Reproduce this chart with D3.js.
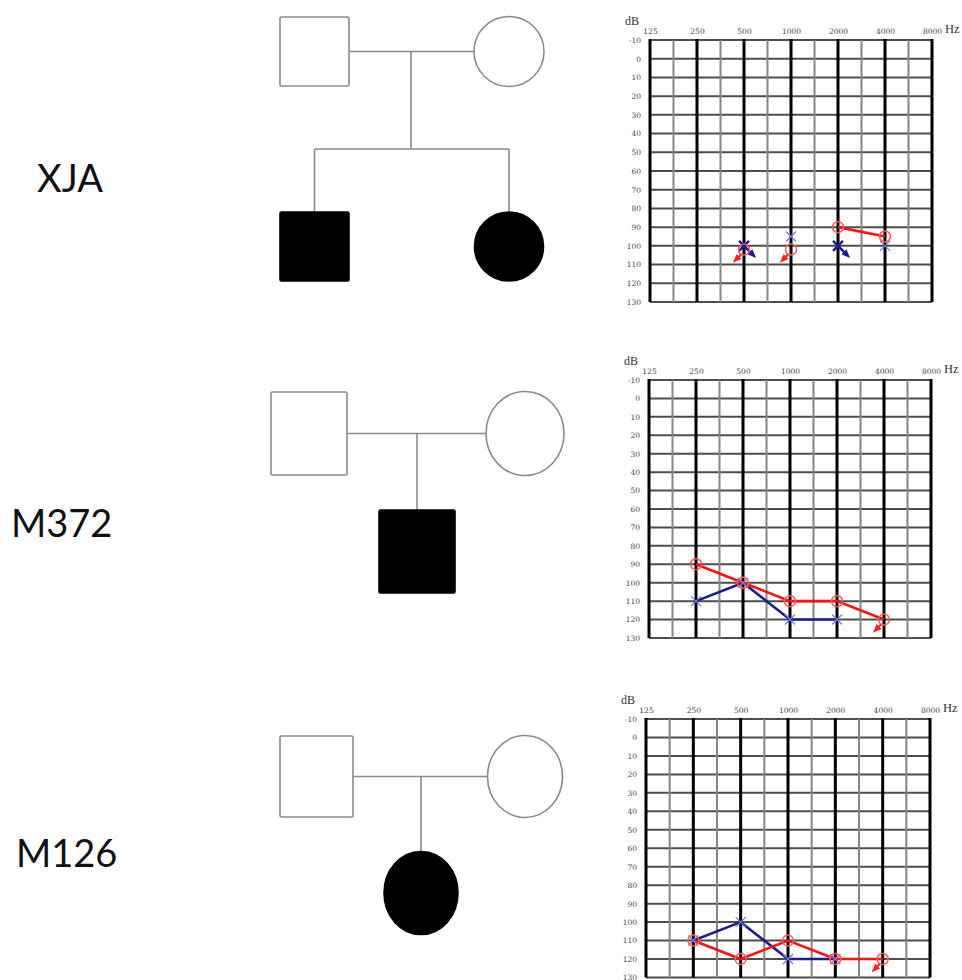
<!DOCTYPE html>
<html>
<head>
<meta charset="utf-8">
<script src="https://cdn.jsdelivr.net/npm/d3@7"></script>
<style>
  body { margin: 0; background: #fff; }
  svg { display: block; }
</style>
</head>
<body>
<svg id="fig" width="962" height="980"></svg>
<script>
// ---- data ----
var familyIds = ["XJA", "M372", "M126"];

var freqs = [125, 250, 500, 1000, 2000, 4000, 8000];
var freqLabels = ["125", "250", "500", "1000", "2000", "4000", "8000"];
var dbTicks = [-10, 0, 10, 20, 30, 40, 50, 60, 70, 80, 90, 100, 110, 120, 130];

// pedigree members: [sex, affected]
var xjaParents = [["male", false], ["female", false]];
var xjaChildren = [["male", true], ["female", true]];
var m372Parents = [["male", false], ["female", false]];
var m372Children = [["male", true]];
var m126Parents = [["male", false], ["female", false]];
var m126Children = [["female", true]];

// audiogram thresholds [Hz, dB HL]; red = right ear (O), blue = left ear (X)
var xjaRight = [[500, 102], [1000, 102], [2000, 90], [4000, 95]];
var xjaLeft = [[500, 100], [1000, 95], [2000, 100], [4000, 100]];
var xjaRightNR = [500, 1000];
var xjaLeftNR = [500, 2000];
var xjaRightJoin = [[2000, 4000]];
var xjaLeftJoin = [];

var m372Right = [[250, 90], [500, 100], [1000, 110], [2000, 110], [4000, 120]];
var m372Left = [[250, 110], [500, 100], [1000, 120], [2000, 120]];
var m372RightNR = [4000];
var m372LeftNR = [];
var m372RightJoin = [[250, 4000]];
var m372LeftJoin = [[250, 2000]];

var m126Right = [[250, 110], [500, 120], [1000, 110], [2000, 120], [4000, 120]];
var m126Left = [[250, 110], [500, 100], [1000, 120], [2000, 120]];
var m126RightNR = [4000];
var m126LeftNR = [];
var m126RightJoin = [[250, 4000]];
var m126LeftJoin = [[250, 2000]];

// ---- layout ----
var panels = [
  {
    id: familyIds[0], labelX: 37, labelY: 192,
    ped: { fx: 314.5, mx: 509, py: 51.5, w: 69, h: 69, mw: 70, mh: 70,
           dropX: 411, sibY: 149, cy: 246.5, cxs: [314.5, 509], cw: 69, ch: 69 },
    parents: xjaParents, children: xjaChildren,
    box: { l: 650, r: 932, t: 40, b: 302 },
    right: xjaRight, left: xjaLeft, rightNR: xjaRightNR, leftNR: xjaLeftNR,
    rightJoin: xjaRightJoin, leftJoin: xjaLeftJoin
  },
  {
    id: familyIds[1], labelX: 11, labelY: 537,
    ped: { fx: 309, mx: 525, py: 433.5, w: 76, h: 83, mw: 78, mh: 84,
           dropX: 417, sibY: null, cy: 551.5, cxs: [417], cw: 76, ch: 83 },
    parents: m372Parents, children: m372Children,
    box: { l: 649, r: 931, t: 380, b: 638 },
    right: m372Right, left: m372Left, rightNR: m372RightNR, leftNR: m372LeftNR,
    rightJoin: m372RightJoin, leftJoin: m372LeftJoin
  },
  {
    id: familyIds[2], labelX: 16, labelY: 867,
    ped: { fx: 316.5, mx: 525, py: 776.5, w: 73, h: 81, mw: 75, mh: 82,
           dropX: 421, sibY: null, cy: 893, cxs: [421], cw: 74, ch: 83 },
    parents: m126Parents, children: m126Children,
    box: { l: 646, r: 930, t: 719, b: 977.5 },
    right: m126Right, left: m126Left, rightNR: m126RightNR, leftNR: m126LeftNR,
    rightJoin: m126RightJoin, leftJoin: m126LeftJoin
  }
];

var svg = d3.select("#fig");
var defs = svg.append("defs");
[["arrRed", "#ff2020"], ["arrBlue", "#1a1a8c"]].forEach(function (m) {
  defs.append("marker")
    .attr("id", m[0])
    .attr("viewBox", "0 0 10 10")
    .attr("refX", 5).attr("refY", 5)
    .attr("markerWidth", 4).attr("markerHeight", 4)
    .attr("orient", "auto")
    .append("path")
    .attr("d", "M0,1 L10,5 L0,9 z")
    .attr("fill", m[1]);
});

var pedLine = "#8a8a8a";

function member(g, sex, affected, cx, cy, w, h) {
  if (sex === "male") {
    g.append("rect")
      .attr("x", cx - w / 2).attr("y", cy - h / 2)
      .attr("width", w).attr("height", h)
      .attr("rx", 1.5)
      .attr("fill", affected ? "#000" : "#fff")
      .attr("stroke", affected ? "#000" : pedLine)
      .attr("stroke-width", 1.6);
  } else {
    g.append("ellipse")
      .attr("cx", cx).attr("cy", cy)
      .attr("rx", w / 2).attr("ry", h / 2)
      .attr("fill", affected ? "#000" : "#fff")
      .attr("stroke", affected ? "#000" : pedLine)
      .attr("stroke-width", 1.6);
  }
}

function drawPedigree(p) {
  var c = p.ped;
  var g = svg.append("g").attr("class", "pedigree");
  var line = function (x1, y1, x2, y2) {
    g.append("line")
      .attr("x1", x1).attr("y1", y1).attr("x2", x2).attr("y2", y2)
      .attr("stroke", pedLine).attr("stroke-width", 1.6);
  };
  // mating line and descent
  line(c.fx + c.w / 2, c.py, c.mx - c.mw / 2, c.py);
  var childTop = c.cy - c.ch / 2;
  if (c.sibY !== null) {
    line(c.dropX, c.py, c.dropX, c.sibY);
    line(d3.min(c.cxs), c.sibY, d3.max(c.cxs), c.sibY);
    c.cxs.forEach(function (x) { line(x, c.sibY, x, childTop); });
  } else {
    line(c.dropX, c.py, c.dropX, childTop);
  }
  member(g, p.parents[0][0], p.parents[0][1], c.fx, c.py, c.w, c.h);
  member(g, p.parents[1][0], p.parents[1][1], c.mx, c.py, c.mw, c.mh);
  p.children.forEach(function (ch, i) {
    member(g, ch[0], ch[1], c.cxs[i], c.cy, c.cw, c.ch);
  });

  svg.append("text")
    .attr("x", p.labelX).attr("y", p.labelY)
    .attr("font-family", "Lato, 'Open Sans', sans-serif")
    .attr("font-size", 38)
    .attr("fill", "#111")
    .text(p.id);
}

function drawAudiogram(p) {
  var b = p.box;
  var x = d3.scaleLog().base(2).domain([125, 8000]).range([b.l, b.r]);
  var y = d3.scaleLinear().domain([-10, 130]).range([b.t, b.b]);
  var g = svg.append("g").attr("class", "audiogram");

  // horizontal grid
  g.selectAll(".hline").data(dbTicks).join("line")
    .attr("x1", b.l).attr("x2", b.r)
    .attr("y1", function (d) { return y(d); })
    .attr("y2", function (d) { return y(d); })
    .attr("stroke", "#4d4d4d").attr("stroke-width", 2);

  // half-octave lines
  var halfOct = freqs.slice(0, -1).map(function (f) { return f * Math.SQRT2; });
  g.selectAll(".mline").data(halfOct).join("line")
    .attr("x1", function (d) { return x(d); })
    .attr("x2", function (d) { return x(d); })
    .attr("y1", b.t).attr("y2", b.b)
    .attr("stroke", "#858585").attr("stroke-width", 2);

  // octave lines + borders
  g.selectAll(".vline").data(freqs).join("line")
    .attr("x1", function (d) { return x(d); })
    .attr("x2", function (d) { return x(d); })
    .attr("y1", b.t - 1).attr("y2", b.b)
    .attr("stroke", "#000").attr("stroke-width", 3);

  // axes
  var top = g.append("g")
    .attr("transform", "translate(0," + b.t + ")")
    .call(d3.axisTop(x).tickValues(freqs)
      .tickFormat(function (d, i) { return freqLabels[i]; })
      .tickSize(0).tickPadding(6));
  var lft = g.append("g")
    .attr("transform", "translate(" + b.l + ",0)")
    .call(d3.axisLeft(y).tickValues(dbTicks).tickSize(0).tickPadding(9)
      .tickFormat(function (d) { return d; }));
  [top, lft].forEach(function (a) {
    a.select(".domain").remove();
    a.selectAll("text")
      .attr("font-family", "'DejaVu Serif', 'Liberation Serif', serif")
      .attr("font-size", 7.5)
      .attr("fill", "#444");
  });

  g.append("text")
    .attr("x", b.l - 25).attr("y", b.t - 15)
    .attr("font-family", "'Liberation Serif', serif")
    .attr("font-size", 12).attr("fill", "#333")
    .text("dB");
  g.append("text")
    .attr("x", b.r + 13).attr("y", b.t - 7)
    .attr("font-family", "'Liberation Serif', serif")
    .attr("font-size", 12.5).attr("fill", "#333")
    .text("Hz");

  var line = d3.line()
    .x(function (d) { return x(d[0]); })
    .y(function (d) { return y(d[1]); });

  function joined(points, joins) {
    return joins.map(function (j) {
      return points.filter(function (d) { return d[0] >= j[0] && d[0] <= j[1]; });
    });
  }

  g.selectAll(".lineL").data(joined(p.left, p.leftJoin)).join("path")
    .attr("d", line).attr("fill", "none")
    .attr("stroke", "#1c1c8e").attr("stroke-width", 2.6);
  g.selectAll(".lineR").data(joined(p.right, p.rightJoin)).join("path")
    .attr("d", line).attr("fill", "none")
    .attr("stroke", "#ff1010").attr("stroke-width", 2.6);

  // left ear X
  p.left.forEach(function (d) {
    var cx = x(d[0]), cy = y(d[1]);
    var nr = p.leftNR.indexOf(d[0]) >= 0;
    var s = 5;
    g.append("path")
      .attr("d", "M" + (cx - s) + "," + (cy - s) + "L" + (cx + s) + "," + (cy + s) +
                 "M" + (cx + s) + "," + (cy - s) + "L" + (cx - s) + "," + (cy + s))
      .attr("stroke", nr ? "#1a1a9a" : "#7878e6")
      .attr("stroke-width", nr ? 2.4 : 1.3);
    if (nr) {
      g.append("line")
        .attr("x1", cx + 3).attr("y1", cy + 3)
        .attr("x2", cx + 9).attr("y2", cy + 9)
        .attr("stroke", "#1a1a8c").attr("stroke-width", 2.2)
        .attr("marker-end", "url(#arrBlue)");
    }
  });

  // right ear O
  p.right.forEach(function (d) {
    var cx = x(d[0]), cy = y(d[1]);
    var nr = p.rightNR.indexOf(d[0]) >= 0;
    g.append("circle")
      .attr("cx", cx).attr("cy", cy).attr("r", 5.5)
      .attr("fill", "none")
      .attr("stroke", "#ff5a5a").attr("stroke-width", 1.5);
    if (nr) {
      g.append("line")
        .attr("x1", cx - 3).attr("y1", cy + 5)
        .attr("x2", cx - 8).attr("y2", cy + 10)
        .attr("stroke", "#ff2020").attr("stroke-width", 2.2)
        .attr("marker-end", "url(#arrRed)");
    }
  });
}

panels.forEach(function (p) {
  drawPedigree(p);
  drawAudiogram(p);
});
</script>
</body>
</html>
